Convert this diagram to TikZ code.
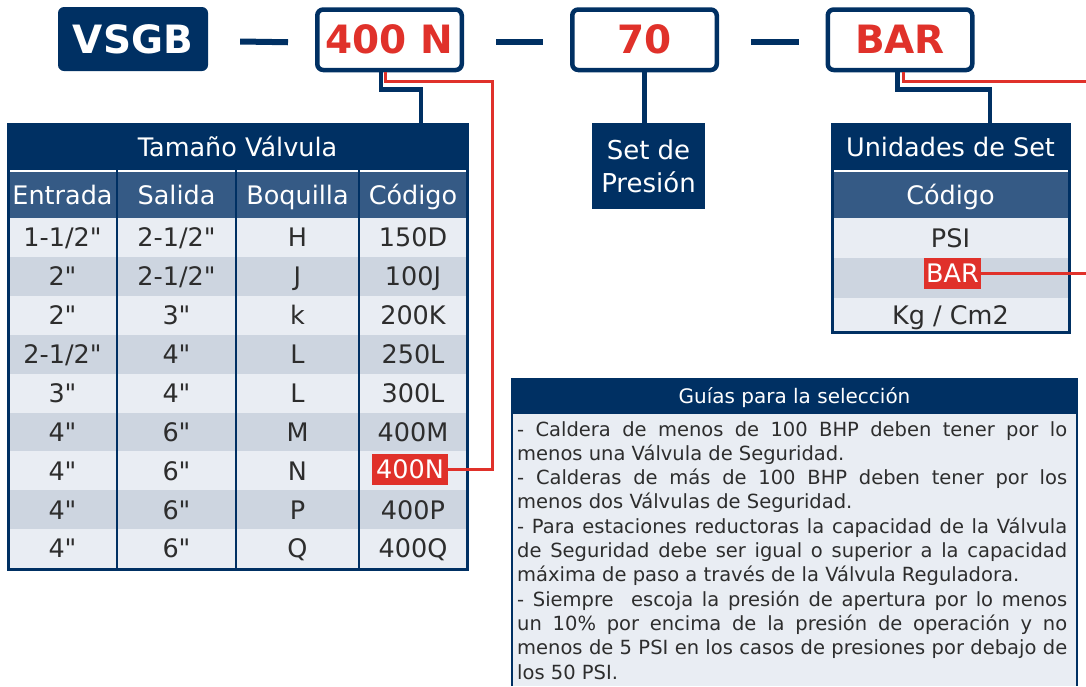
\documentclass[tikz,border=0pt]{standalone}
\usepackage{fontspec}
\setmainfont{DejaVu Sans}[Ligatures=TeXOff]
\usepackage{xcolor}
\usepackage{tikz}
\usetikzlibrary{positioning}
\definecolor{navy}{RGB}{0,48,99}
\definecolor{midblue}{RGB}{53,90,133}
\definecolor{rowlight}{RGB}{233,237,243}
\definecolor{rowdark}{RGB}{205,213,224}
\definecolor{codered}{RGB}{224,49,42}
\definecolor{cellgray}{RGB}{45,45,45}
\newcommand{\cellfont}{\fontsize{25.5}{28}\selectfont}
\tikzset{
  codebox/.style={draw=navy,line width=4.5pt,rounded corners=6pt,fill=white,text=codered,
    minimum width=144.5pt,minimum height=60.5pt,inner sep=0pt,
    font=\fontsize{39}{39}\selectfont\bfseries,text height=28.4pt,text depth=0pt},
  band/.style={fill=navy,text=white,inner sep=0pt,font=\cellfont,text height=18.6pt,text depth=0pt},
  tabcell/.style={text=cellgray,inner sep=0pt,font=\cellfont,text height=18.6pt,text depth=0pt},
  selmark/.style={fill=codered,text=white,inner sep=0pt,font=\cellfont,text height=18.6pt,text depth=0pt},
  navyline/.style={draw=navy,line width=4.5pt},
  redline/.style={draw=codered,line width=3pt},
}

\begin{document}
\begin{tikzpicture}[x=1pt,y=-1pt]
    \useasboundingbox (0,0) rectangle (1086,686);

    \node[fill=navy,rounded corners=6pt,minimum width=150pt,minimum height=64pt,inner sep=0pt,
      text=white,font=\fontsize{39}{39}\selectfont\bfseries,text height=28.4pt,text depth=0pt] (vsgb) at (133,39) {VSGB};
    \node[codebox] (size) at (389.5,39.75) {400 N};
    \node[codebox] (pres) at (644.5,39.75) {70};
    \node[codebox] (unit) at (900,39.75) {BAR};

    \draw[navy,line width=6pt] ([shift={(32,2.5)}]vsgb.east) -- ([shift={(-27,2.5)}]size.west);
    \draw[navy,line width=6pt] ([shift={(32,2.5)}]size.east) -- ([shift={(-27,2.5)}]pres.west);
    \draw[navy,line width=6pt] ([shift={(32,2.5)}]pres.east) -- ([shift={(-27,2.5)}]unit.west);

    % Tamaño Válvula
    \node[band,minimum width=459pt,minimum height=46pt] (ttitle) at (237.5,147) {Tamaño Válvula};
    \fill[midblue] (8,172) rectangle (467,218);
    \draw[white,line width=2.5pt] (9.5,171) -- (465.5,171);
    \foreach \i in {1,...,9}{
      \ifodd\i \def\rowcol{rowlight}\else \def\rowcol{rowdark}\fi
      \fill[\rowcol] (8,{218+(\i-1)*38.9}) rectangle (467,{218+\i*38.9});
    }
    \foreach \x/\t [count=\k] in {62.5/Entrada,176.5/Salida,297.5/Boquilla,413/Código}
      \node[band,fill=none] (hd\k) at (\x,195) {\t};
    \foreach \e/\s/\b/\c [count=\i] in {{1-1/2"}/{2-1/2"}/H/150D,{2"}/{2-1/2"}/J/100J,{2"}/{3"}/k/200K,
        {2-1/2"}/{4"}/L/250L,{3"}/{4"}/L/300L,{4"}/{6"}/M/400M,{4"}/{6"}/N/{},{4"}/{6"}/P/400P,{4"}/{6"}/Q/400Q}{
      \pgfmathsetmacro\yy{218+(\i-0.5)*38.9}
      \node[tabcell] (en\i) at (62.5,\yy) {\e};
      \node[tabcell] (sa\i) at (176.5,\yy) {\s};
      \node[tabcell] (bo\i) at (297.5,\yy) {\b};
      \node[tabcell] (co\i) at (413,\yy) {\c};
    }
    \node[selmark,minimum width=76pt,minimum height=31pt] (sel400) at (410,469.5) {400N};
    \foreach \x in {117,236,359}
      \draw[navy,line width=2.5pt] (\x,170) -- (\x,568);
    \draw[navy,line width=3pt] (8,124) rectangle (467,569);

    \draw[navyline] ([xshift=-8.5pt]size.south) -- ++(0,17) -| ([xshift=183.5pt]ttitle.north);
    \coordinate (redturn) at (492,81.5);
    \draw[redline] ([xshift=-4pt]size.south) |- (redturn) |- (sel400.east);

    % Set de Presión
    \node[fill=navy,text=white,inner sep=0pt,minimum width=113pt,minimum height=86pt,align=center,
      font=\fontsize{26}{33}\selectfont] (setp) at (648.5,166) {Set de\\Presión};
    \draw[navyline] (pres.south) -- (pres.south |- setp.north);

    % Unidades de Set
    \node[band,minimum width=237pt,minimum height=46pt] (utitle) at (950.5,147) {Unidades de Set};
    \fill[midblue] (832,172) rectangle (1069,218);
    \draw[white,line width=2.5pt] (833.5,171) -- (1067.5,171);
    \node[band,fill=none] (ucode) at (950.5,195) {Código};
    \fill[rowlight] (832,218) rectangle (1069,258);
    \fill[rowdark] (832,258) rectangle (1069,298);
    \fill[rowlight] (832,298) rectangle (1069,332);
    \node[tabcell] (upsi) at (950.5,238) {PSI};
    \node[selmark,minimum width=57pt,minimum height=31pt] (ubar) at (952.5,273.5) {BAR};
    \node[tabcell] (ukg) at (950.5,315) {Kg / Cm2};
    \draw[navy,line width=3pt] (832,124) rectangle (1069,332);

    \draw[navyline] ([xshift=-2.5pt]unit.south) -- ++(0,17) -| ([xshift=39.5pt]utitle.north);
    \coordinate (redout) at (1086,81.5);
    \coordinate (barout) at (1086,273.5);
    \draw[redline] ([xshift=3.5pt]unit.south) |- (redout);
    \draw[redline] (ubar.east) -- (barout);

    % Guías
    \fill[rowlight] (512,414) rectangle (1077,686);
    \draw[navy,line width=2pt] (512,378) -- (512,686) (1077,378) -- (1077,686);
    \node[fill=navy,text=white,minimum width=565pt,minimum height=36pt,inner sep=0pt,
      font=\fontsize{20}{20}\selectfont,text height=14.6pt,text depth=0pt] (gtitle) at (794.5,396) {Guías para la selección};
    \node[anchor=north west,inner sep=0pt,text width=550pt,align=justify,text=cellgray,
      font=\fontsize{19.5}{24.3}\selectfont] (gtext) at (517,421) {\noindent\hyphenpenalty=10000
      - Caldera de menos de 100 BHP deben tener por lo\linebreak menos una Válvula de Seguridad.\newline
      - Calderas de más de 100 BHP deben tener por los\linebreak menos dos Válvulas de Seguridad.\newline
      - Para estaciones reductoras la capacidad de la Válvula\linebreak de Seguridad debe ser igual o superior a la capacidad\linebreak máxima de paso a través de la Válvula Reguladora.\newline
      - Siempre\ \ escoja la presión de apertura por lo menos\linebreak un 10\% por encima de la presión de operación y no\linebreak menos de 5 PSI en los casos de presiones por debajo de\linebreak los 50 PSI.};
\end{tikzpicture}
\end{document}
